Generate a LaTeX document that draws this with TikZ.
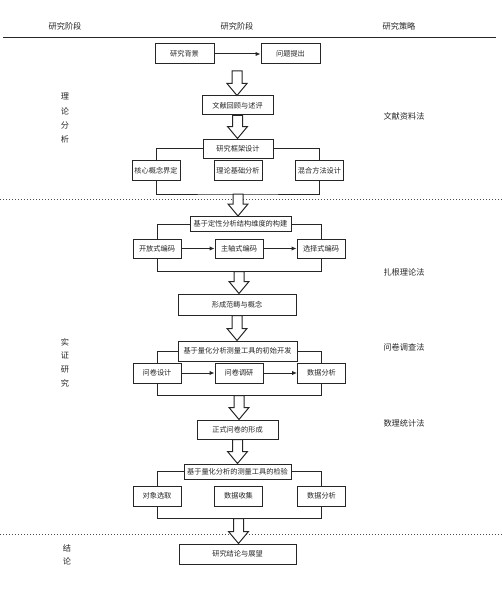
\documentclass[tikz,border=0pt]{standalone}
\usepackage{fontspec}
\setmainfont{Noto Sans CJK SC}
\usetikzlibrary{calc,arrows.meta}
\newcommand\harr[2]{\draw[harrow] let \p1=(#1),\p2=(#2) in
  (\x1-5pt,\y1) -- (\x1+5pt,\y1) -- (\x1+5pt,\y2+12pt) -- (\x1+10pt,\y2+12pt)
  -- (\x1,\y2) -- (\x1-10pt,\y2+12pt) -- (\x1-5pt,\y2+12pt) -- cycle;}
\begin{document}
\begin{tikzpicture}[x=1pt,y=-1pt,
  box/.style={draw=black!85,line width=1pt,inner sep=0pt,fill=white,
    font=\fontsize{7.2}{8}\selectfont,text=black!85},
  bx/.style 2 args={box,minimum width=#1pt,minimum height=#2pt},
  lab/.style={font=\fontsize{8.2}{10}\selectfont,text=black!85,inner sep=0pt},
  vlab/.style={lab,align=center,font=\fontsize{8.2}{#1}\selectfont},
  conn/.style={draw=black!85,line width=1pt},
  arr/.style={conn,-{Latex[length=5pt,width=4.5pt]}},
  harrow/.style={draw=black!85,line width=1pt,fill=white,line join=miter},
  sep/.style={draw=black!70,line width=0.9pt,dash pattern=on 0.9pt off 2.1pt}]
\useasboundingbox (0,0) rectangle (502,599);
% header
\node[lab] (h1) at (65,26) {研究阶段};
\node[lab] (h2) at (237,26) {研究阶段};
\node[lab] (h3) at (399,26) {研究策略};
\draw[line width=1pt,black!85] (3,38) -- (496,38);
% separators
\draw[sep] (0,199) -- (502,199);
\draw[sep] (0,534) -- (502,534);
% left labels
\node[vlab=14.3] (l1) at (65,118.5) {理\\论\\分\\析};
\node[vlab=13.7] (l2) at (65,362.5) {实\\证\\研\\究};
\node[vlab=12.5] (l3) at (67,555) {结\\论};
% right labels
\node[lab] (r1) at (404,116) {文献资料法};
\node[lab] (r2) at (404,272) {扎根理论法};
\node[lab] (r3) at (404,347) {问卷调查法};
\node[lab] (r4) at (404,423) {数理统计法};
% row 1
\node[bx={59}{20}] (bg) at (184.5,54) {研究背景};
\node[bx={59}{20}] (wt) at (290.5,54) {问题提出};
\draw[arr] (bg) -- (wt);
\node[bx={71}{19}] (wx) at (237.5,105.5) {文献回顾与述评};
\coordinate (a1) at (237,71);
\harr{a1}{wx.north}
\node[bx={70}{19}] (kj) at (238,148.5) {研究框架设计};
\harr{wx.south}{kj.north}
\node[bx={48}{20}] (s1) at (156,170.5) {核心概念界定};
\node[bx={48}{20}] (s2) at (238,170.5) {理论基础分析};
\node[bx={48}{20}] (s3) at (319.5,170.5) {混合方法设计};
\draw[conn] (kj.west) -| (s1.north);
\draw[conn] (kj.east) -| (s3.north);
\coordinate (b1) at ($(s2.south)+(0,13)$);
\draw[conn] (s1.south) |- (b1) -| (s3.south);
% section 2
\node[bx={101}{15}] (dx) at (240.5,224) {基于定性分析结构维度的构建};
\harr{b1}{dx.north}
\node[bx={48}{19}] (d1) at (157,248.5) {开放式编码};
\node[bx={48}{19}] (d2) at (239,248.5) {主轴式编码};
\node[bx={48}{19}] (d3) at (321,248.5) {选择式编码};
\draw[conn] (dx.west) -| (d1.north);
\draw[conn] (dx.east) -| (d3.north);
\draw[arr] (d1) -- (d2);
\draw[arr] (d2) -- (d3);
\coordinate (b2) at ($(d2.south)+(0,13)$);
\draw[conn] (d1.south) |- (b2) -| (d3.south);
\node[bx={118}{21}] (fc) at (237,304.5) {形成范畴与概念};
\harr{b2}{fc.north}
% section 3
\node[bx={119}{20}] (cs) at (237.5,351) {基于量化分析测量工具的初始开发};
\harr{fc.south}{cs.north}
\node[bx={48}{20}] (q1) at (157,373) {问卷设计};
\node[bx={48}{20}] (q2) at (239,373) {问卷调研};
\node[bx={48}{20}] (q3) at (321.5,373) {数据分析};
\draw[conn] (cs.west) -| (q1.north);
\draw[conn] (cs.east) -| (q3.north);
\draw[arr] (q1) -- (q2);
\draw[arr] (q2) -- (q3);
\coordinate (b3) at ($(q2.south)+(0,12)$);
\draw[conn] (q1.south) |- (b3) -| (q3.south);
\node[bx={81}{19}] (zs) at (237.5,429.5) {正式问卷的形成};
\harr{b3}{zs.north}
% section 4
\node[bx={107}{15}] (jy) at (237.5,471.5) {基于量化分析的测量工具的检验};
\harr{zs.south}{jy.north}
\node[bx={48}{20}] (j1) at (157,496) {对象选取};
\node[bx={48}{20}] (j2) at (238.5,496) {数据收集};
\node[bx={48}{20}] (j3) at (321.5,496) {数据分析};
\draw[conn] (jy.west) -| (j1.north);
\draw[conn] (jy.east) -| (j3.north);
\coordinate (b4) at ($(j2.south)+(0,12)$);
\draw[conn] (j1.south) |- (b4) -| (j3.south);
% conclusion
\node[bx={117}{20}] (jl) at (237.5,554) {研究结论与展望};
\harr{b4}{jl.north}
\end{tikzpicture}
\end{document}
